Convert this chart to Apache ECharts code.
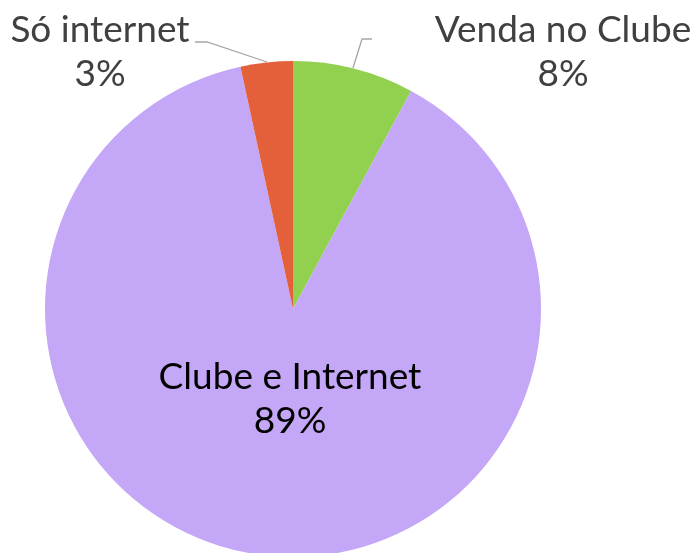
<!DOCTYPE html>
<html>
<head>
<meta charset="utf-8">
<style>
html,body{margin:0;padding:0;background:#fff;}
#chart{width:697px;height:553px;}
</style>
<script src="https://cdn.jsdelivr.net/npm/echarts@6/dist/echarts.min.js"></script>
</head>
<body>
<div id="chart"></div>
<script>
const categories = ['Venda no Clube', 'Clube e Internet', 'Só internet'];
const values = [7.9, 88.7, 3.4];
const colors = ['#92D050', '#C4A7F6', '#E3603B'];

// label placement (label boxes, not marks)
const labelPos = [
  {x: 563, y: 52, line: [[353, 68], [362, 39], [372, 39]]},
  {x: 290, y: 399, line: null},
  {x: 100, y: 52, line: [[267, 62], [207, 42], [195, 42]]}
];

const chart = echarts.init(document.getElementById('chart'), null, {renderer: 'canvas'});
chart.setOption({
  animation: false,
  backgroundColor: '#ffffff',
  series: [{
    type: 'pie',
    center: [293, 309],
    radius: 248,
    startAngle: 90,
    clockwise: true,
    avoidLabelOverlap: false,
    data: categories.map((c, i) => ({
      name: c,
      value: values[i],
      itemStyle: {color: colors[i]},
      label: {color: i === 1 ? '#000000' : '#404040'},
      labelLine: {show: i !== 1}
    })),
    label: {
      show: true,
      position: 'outside',
      fontFamily: 'Lato',
      fontSize: 37,
      lineHeight: 44,
      align: 'center',
      formatter: p => p.name + '\n' + Math.round(p.percent) + '%'
    },
    labelLine: {
      show: true,
      lineStyle: {color: '#A6A6A6', width: 1.3}
    },
    labelLayout: function (params) {
      const lp = labelPos[params.dataIndex];
      const o = {x: lp.x, y: lp.y, align: 'center', verticalAlign: 'middle', hideOverlap: false};
      if (lp.line) o.labelLinePoints = lp.line;
      return o;
    },
    emphasis: {disabled: true}
  }]
});
</script>
</body>
</html>
